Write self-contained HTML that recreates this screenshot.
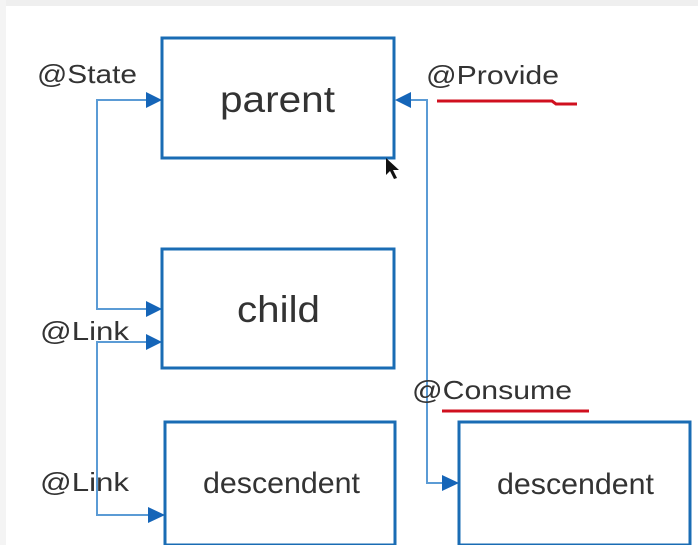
<!DOCTYPE html>
<html><head><style>
html,body{margin:0;padding:0;background:#fff;}
svg{display:block;}
text{font-family:"Liberation Sans",sans-serif;fill:#333;}
</style></head><body>
<svg width="698" height="545" viewBox="0 0 698 545" xmlns="http://www.w3.org/2000/svg">
<rect x="0" y="0" width="698" height="545" fill="#fff"/>
<rect x="0" y="0" width="698" height="6" fill="#efefef"/>
<rect x="0" y="0" width="6" height="545" fill="#f4f4f4"/>
<g fill="none" stroke="#1a6cb4" stroke-width="3">
<rect x="162" y="38" width="232" height="120"/>
<rect x="162" y="249" width="232" height="119"/>
<rect x="165" y="422" width="230" height="123"/>
<rect x="459" y="422" width="231" height="123"/>
</g>
<g fill="none" stroke="#5b9bd5" stroke-width="2">
<polyline points="146,100 97,100 97,309 146,309"/>
<polyline points="146,342 97,342 97,515 150,515"/>
<polyline points="410,100 427,100 427,483 442,483"/>
</g>
<g fill="#1565b8">
<polygon points="146,92 162,100 146,108"/>
<polygon points="146,301 162,309 146,317"/>
<polygon points="146,334 162,342 146,350"/>
<polygon points="148,507 165,515 148,523"/>
<polygon points="411,92 395,100 411,108"/>
<polygon points="442,475 459,483 442,491"/>
</g>
<text x="220" y="112" font-size="37" textLength="115" lengthAdjust="spacingAndGlyphs">parent</text>
<text x="237" y="322" font-size="37" textLength="83" lengthAdjust="spacingAndGlyphs">child</text>
<text x="203" y="493" font-size="30" textLength="157" lengthAdjust="spacingAndGlyphs">descendent</text>
<text x="497" y="494" font-size="30" textLength="157" lengthAdjust="spacingAndGlyphs">descendent</text>
<text x="37" y="83" font-size="26" textLength="100" lengthAdjust="spacingAndGlyphs">@State</text>
<text x="426" y="84" font-size="26" textLength="133" lengthAdjust="spacingAndGlyphs">@Provide</text>
<text x="40" y="340" font-size="26" textLength="89" lengthAdjust="spacingAndGlyphs">@Link</text>
<text x="40" y="491" font-size="26" textLength="89" lengthAdjust="spacingAndGlyphs">@Link</text>
<text x="412" y="399" font-size="26" textLength="160" lengthAdjust="spacingAndGlyphs">@Consume</text>
<path d="M437 101 L552 101 L556 104 L577 104" stroke="#d0101f" stroke-width="3" fill="none"/>
<line x1="442" y1="411" x2="589" y2="411" stroke="#d0101f" stroke-width="3"/>
<polygon points="386,158 386,175 390,171 394,179 397,178 393,170 399,170" fill="#111"/>
</svg>
</body></html>
